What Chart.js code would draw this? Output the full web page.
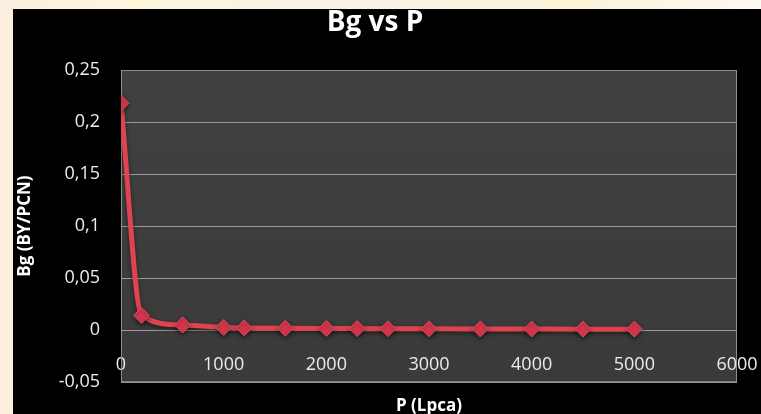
<!DOCTYPE html>
<html lang="es">
<head>
<meta charset="UTF-8" />
<title>Bg vs P</title>
<script src="https://cdn.jsdelivr.net/npm/chart.js@4.4.0/dist/chart.umd.min.js"></script>
<style>
    html, body {
        margin: 0;
        padding: 0;
        width: 761px;
        height: 414px;
        overflow: hidden;
        background: linear-gradient(90deg, #fbeedf 0%, #fdf6dc 18%, #f6f2e8 45%, #fbf3d8 75%, #fdf9f4 100%);
    }
    .frame {
        position: absolute;
        left: 13px;
        top: 9px;
        width: 748px;
        height: 405px;
        background: #000;
    }
</style>
</head>
<body>
<div class="frame">
    <canvas id="bgChart"></canvas>
</div>

<script>
    // Presion (Lpca) y factor volumetrico del gas Bg (BY/PCN)
    const pressures = [0, 200, 600, 1000, 1200, 1600, 2000, 2300, 2600, 3000, 3500, 4000, 4500, 5000];
    const bgValues = [0.218, 0.0142, 0.005, 0.0026, 0.0022, 0.0018, 0.0016, 0.0015, 0.0014, 0.0013, 0.0012, 0.0011, 0.001, 0.001];

    const xTicks = [0, 1000, 2000, 3000, 4000, 5000, 6000];
    const yTicks = [-0.05, 0, 0.05, 0.1, 0.15, 0.2, 0.25];

    const FONT = "'Open Sans', sans-serif";

    // decimal comma, no trailing zeros
    function fmt(v) {
        let s = (Math.round(v * 1000) / 1000).toString();
        return s.replace('.', ',');
    }

    // gray plot area and its border
    const plotArea = {
        id: 'plotArea',
        beforeDraw(chart) {
            const { ctx, chartArea: a } = chart;
            ctx.save();
            const g = ctx.createLinearGradient(0, a.top, 0, a.bottom);
            g.addColorStop(0, '#414141');
            g.addColorStop(1, '#3a3a3a');
            ctx.fillStyle = g;
            ctx.fillRect(a.left, a.top, a.right - a.left, a.bottom - a.top);
            ctx.restore();
        },
        beforeDatasetsDraw(chart) {
            const { ctx, chartArea: a } = chart;
            ctx.save();
            ctx.strokeStyle = '#8e8e8e';
            ctx.lineWidth = 1;
            ctx.strokeRect(a.left + 0.5, a.top + 0.5, a.right - a.left - 1, a.bottom - a.top - 1);
            ctx.restore();
        },
        beforeDatasetDraw(chart) {
            const ctx = chart.ctx;
            ctx.save();
            ctx.shadowColor = 'rgba(0, 0, 0, 0.5)';
            ctx.shadowBlur = 4;
            ctx.shadowOffsetY = 2;
        },
        afterDatasetDraw(chart) {
            chart.ctx.restore();
        }
    };

    new Chart(document.getElementById('bgChart'), {
        type: 'line',
        data: {
            datasets: [{
                label: 'Bg',
                data: pressures.map((p, i) => ({ x: p, y: bgValues[i] })),
                borderColor: '#de4450',
                borderWidth: 5,
                backgroundColor: '#d5374d',
                pointStyle: 'rectRot',
                pointRadius: 8,
                pointBorderColor: '#e04a58',
                pointBorderWidth: 1,
                cubicInterpolationMode: 'monotone',
                fill: false
            }]
        },
        options: {
            responsive: true,
            maintainAspectRatio: false,
            animation: false,
            devicePixelRatio: 1,
            layout: { padding: { left: 0, right: 24, top: 0, bottom: 0 } },
            plugins: {
                legend: { display: false },
                tooltip: { enabled: false },
                title: {
                    display: true,
                    text: 'Bg vs P',
                    color: '#ffffff',
                    font: { family: FONT, size: 28, weight: 'bold', lineHeight: 1 },
                    padding: { top: 0, bottom: 33 }
                },
                subtitle: {
                    display: true,
                    position: 'bottom',
                    fullSize: false,
                    text: 'P (Lpca)',
                    color: '#ffffff',
                    font: { family: FONT, size: 17, weight: 'bold', lineHeight: 1.2 },
                    padding: { top: 14, bottom: -8 }
                }
            },
            scales: {
                x: {
                    type: 'linear',
                    position: { y: 0 },
                    min: 0,
                    max: 6000,
                    afterBuildTicks: (scale) => { scale.ticks = xTicks.map(v => ({ value: v })); },
                    afterFit: (scale) => { scale.paddingLeft = 0; scale.paddingRight = 0; },
                    grid: { display: false, drawTicks: false },
                    border: { display: false },
                    ticks: {
                        color: '#ececec',
                        padding: 24,
                        maxRotation: 0,
                        font: { family: FONT, size: 18 },
                        callback: (v) => String(v)
                    }
                },
                y: {
                    min: -0.05,
                    max: 0.25,
                    afterBuildTicks: (scale) => { scale.ticks = yTicks.map(v => ({ value: v })); },
                    afterFit: (scale) => { scale.width = 108; },
                    grid: { color: '#9c9c9c', lineWidth: 1, drawTicks: false },
                    border: { display: false },
                    ticks: {
                        color: '#ececec',
                        padding: 21,
                        font: { family: FONT, size: 18 },
                        callback: (v) => fmt(v)
                    },
                    title: {
                        display: true,
                        text: 'Bg (BY/PCN)',
                        color: '#ffffff',
                        font: { family: FONT, size: 17, weight: 'bold', lineHeight: 1.2 },
                        padding: { top: 2, bottom: 0 }
                    }
                }
            }
        },
        plugins: [plotArea]
    });
</script>
</body>
</html>
